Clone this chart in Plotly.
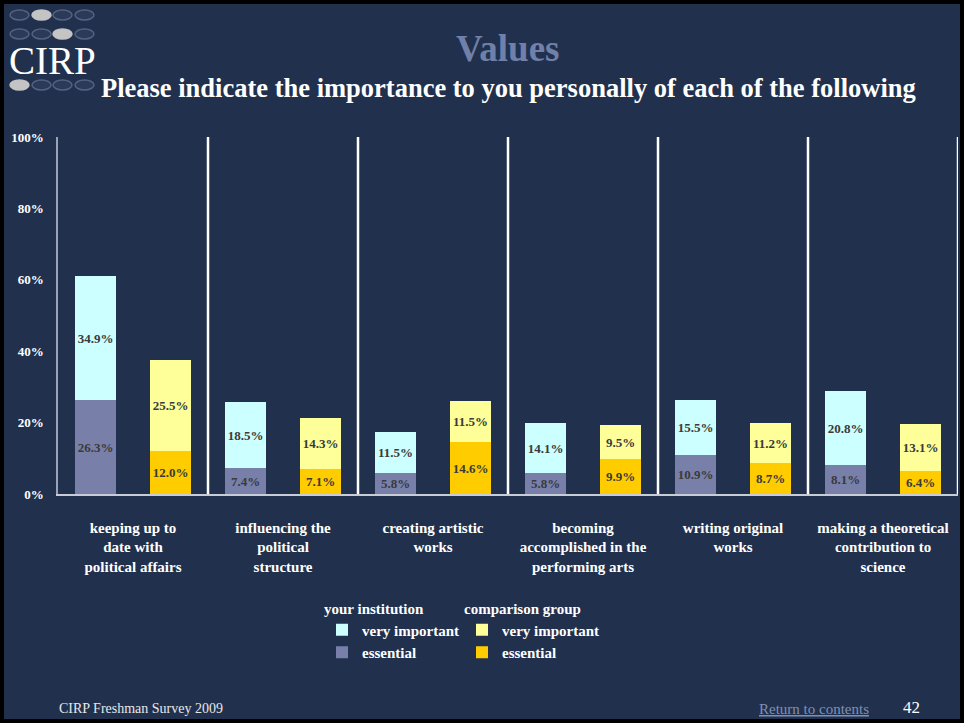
import plotly.graph_objects as go

categories = [
    "keeping up to<br>date with<br>political affairs",
    "influencing the<br>political<br>structure",
    "creating artistic<br>works",
    "becoming<br>accomplished in the<br>performing arts",
    "writing original<br>works",
    "making a theoretical<br>contribution to<br>science",
]
inst_essential = [26.3, 7.4, 5.8, 5.8, 10.9, 8.1]
inst_very = [34.9, 18.5, 11.5, 14.1, 15.5, 20.8]
comp_essential = [12.0, 7.1, 14.6, 9.9, 8.7, 6.4]
comp_very = [25.5, 14.3, 11.5, 9.5, 11.2, 13.1]
y_ticks = [0, 20, 40, 60, 80, 100]

BG = "#21314d"
SERIF = "Liberation Serif"
W, H = 964, 723
L, R, T, B = 58, 6, 137, 229
PW, PH = W - L - R, H - T - B


def px(x):
    return (x - L) / PW


def py(y):
    return (H - B - y) / PH


idx = list(range(len(categories)))
x_inst = [i - 0.25 for i in idx]
x_comp = [i + 0.25 for i in idx]
bw = 0.267
lbl_font = dict(family=SERIF, size=13, color="#3a3a3a", weight="bold")


def bar(x, y, name, color, legend):
    return go.Bar(
        x=x, y=y, name=name, width=bw, marker=dict(color=color, line=dict(width=0)),
        text=[f"{v:.1f}%" for v in y], textposition="inside", insidetextanchor="middle",
        textangle=0, textfont=lbl_font, legend=legend, hoverinfo="skip",
    )


fig = go.Figure()
fig.add_trace(bar(x_inst, inst_essential, "essential", "#7880aa", "legend"))
fig.add_trace(bar(x_inst, inst_very, "very important", "#ccffff", "legend"))
fig.add_trace(bar(x_comp, comp_essential, "essential", "#ffcc00", "legend2"))
fig.add_trace(bar(x_comp, comp_very, "very important", "#ffff99", "legend2"))

shapes = []
for i in idx:
    shapes.append(dict(type="line", xref="x", yref="y", x0=i + 0.5, x1=i + 0.5,
                       y0=0, y1=100, line=dict(color="white", width=2.5)))

# logo ovals
oval_x = [10, 32, 53, 75]
rows = [(10, 1), (29, 2), (80, 0)]
for yy, hi in rows:
    for k, xx in enumerate(oval_x):
        filled = (k == hi)
        shapes.append(dict(type="circle", xref="paper", yref="paper",
                           x0=px(xx), x1=px(xx + 19), y0=py(yy + 10), y1=py(yy),
                           fillcolor="#c4c4c4" if filled else "#2a3a58",
                           line=dict(color="#c4c4c4" if filled else "#52627f", width=1.5)))

# page frame
shapes.append(dict(type="rect", xref="paper", yref="paper",
                   x0=px(0), x1=px(W), y0=py(H), y1=py(0),
                   line=dict(color="black", width=8), fillcolor="rgba(0,0,0,0)", layer="above"))

annotations = [
    dict(text="<b>Values</b>", x=px(508), y=py(48), xref="paper", yref="paper",
         showarrow=False, font=dict(family=SERIF, size=37, color="#7080a8"),
         xanchor="center", yanchor="middle"),
    dict(text="<b>Please indicate the importance to you personally of each of the following</b>",
         x=px(508), y=py(88), xref="paper", yref="paper", showarrow=False,
         font=dict(family=SERIF, size=26.5, color="white"), xanchor="center", yanchor="middle"),
    dict(text="CIRP", x=px(7), y=py(60), xref="paper", yref="paper", showarrow=False,
         font=dict(family=SERIF, size=39, color="white"), xanchor="left", yanchor="middle"),
    dict(text="CIRP Freshman Survey 2009", x=px(57), y=py(708), xref="paper", yref="paper",
         showarrow=False, font=dict(family=SERIF, size=14, color="#e8e8e8"),
         xanchor="left", yanchor="middle"),
    dict(text="<u>Return to contents</u>", x=px(757), y=py(709), xref="paper", yref="paper",
         showarrow=False, font=dict(family=SERIF, size=15, color="#8090b4"),
         xanchor="left", yanchor="middle"),
    dict(text="42", x=px(922), y=py(707), xref="paper", yref="paper",
         showarrow=False, font=dict(family=SERIF, size=17, color="white"),
         xanchor="right", yanchor="middle"),
]

legend_common = dict(
    orientation="v", traceorder="reversed", bgcolor="rgba(0,0,0,0)",
    font=dict(family=SERIF, size=15, color="white", weight="bold"), xanchor="left", yanchor="top",
    itemclick=False, itemdoubleclick=False, tracegroupgap=0,
)

fig.update_layout(
    width=W, height=H, autosize=False,
    margin=dict(l=L, r=R, t=T, b=B, pad=0),
    paper_bgcolor=BG, plot_bgcolor=BG,
    barmode="stack", bargap=0,
    shapes=shapes, annotations=annotations,
    legend=dict(title=dict(text="<b>your institution</b>", font=dict(family=SERIF, size=15, color="white")),
                x=px(322), y=py(594), **legend_common),
    legend2=dict(title=dict(text="<b>comparison group</b>", font=dict(family=SERIF, size=15, color="white")),
                 x=px(462), y=py(594), **legend_common),
    uniformtext=dict(minsize=13, mode="show"),
    xaxis=dict(range=[-0.5, 5.5], tickvals=idx, ticktext=[f"<b>{c}</b>" for c in categories],
               tickfont=dict(family=SERIF, size=15, color="white"), showgrid=False, zeroline=False,
               showline=True, linecolor="#c8ccd6", linewidth=1.5, ticks="", ticklabelstandoff=19,
               fixedrange=True),
    yaxis=dict(range=[0, 100], tickvals=y_ticks, ticktext=[f"<b>{v}%</b>" for v in y_ticks],
               tickfont=dict(family=SERIF, size=13, color="white"), showgrid=False, zeroline=False,
               showline=True, linecolor="#9aa3b5", linewidth=1.5, ticks="", ticklabelstandoff=10,
               fixedrange=True),
    showlegend=True,
)

fig.write_html("out.html", config={"displayModeBar": False},
               post_script="document.body.style.margin='0';")
